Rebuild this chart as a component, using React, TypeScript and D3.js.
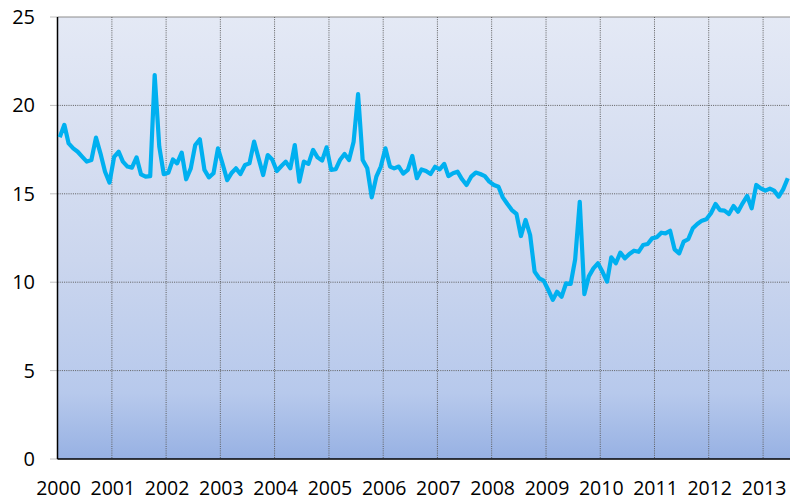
import React, { useEffect, useRef } from 'react';
import * as d3 from 'd3';

// monthly values, Jan..Dec
const y2000 = [18.2, 18.9, 17.85, 17.57, 17.38, 17.09, 16.82, 16.91, 18.18, 17.29, 16.25, 15.63];
const y2001 = [17.09, 17.38, 16.82, 16.54, 16.48, 17.06, 16.1, 15.97, 16.0, 21.72, 17.67, 16.11];
const y2002 = [16.19, 16.94, 16.72, 17.33, 15.82, 16.44, 17.76, 18.08, 16.35, 15.93, 16.16, 17.57];
const y2003 = [16.7, 15.77, 16.16, 16.44, 16.12, 16.63, 16.72, 17.95, 16.99, 16.06, 17.19, 16.94];
const y2004 = [16.29, 16.57, 16.82, 16.44, 17.76, 15.69, 16.82, 16.69, 17.48, 17.06, 16.88, 17.63];
const y2005 = [16.35, 16.39, 16.91, 17.25, 16.91, 17.95, 20.64, 16.91, 16.44, 14.8, 15.97, 16.54];
const y2006 = [17.57, 16.54, 16.44, 16.54, 16.14, 16.35, 17.14, 15.88, 16.38, 16.29, 16.12, 16.53];
const y2007 = [16.38, 16.69, 16.0, 16.16, 16.25, 15.82, 15.5, 15.97, 16.2, 16.12, 16.0, 15.69];
const y2008 = [15.5, 15.4, 14.8, 14.42, 14.08, 13.86, 12.61, 13.52, 12.67, 10.6, 10.22, 10.09];
const y2009 = [9.56, 9.0, 9.46, 9.18, 9.94, 9.9, 11.29, 14.55, 9.33, 10.33, 10.78, 11.07];
const y2010 = [10.59, 10.03, 11.41, 11.07, 11.67, 11.35, 11.6, 11.78, 11.72, 12.1, 12.16, 12.48];
const y2011 = [12.54, 12.8, 12.76, 12.91, 11.86, 11.63, 12.29, 12.43, 13.05, 13.29, 13.48, 13.56];
const y2012 = [13.9, 14.42, 14.08, 14.05, 13.86, 14.31, 13.99, 14.46, 14.88, 14.18, 15.5, 15.31];
const y2013 = [15.18, 15.29, 15.18, 14.84, 15.25, 15.88];

const years = [2000, 2001, 2002, 2003, 2004, 2005, 2006, 2007, 2008, 2009, 2010, 2011, 2012, 2013];
const yTicks = [0, 5, 10, 15, 20, 25];

const values = [
  ...y2000, ...y2001, ...y2002, ...y2003, ...y2004, ...y2005, ...y2006,
  ...y2007, ...y2008, ...y2009, ...y2010, ...y2011, ...y2012, ...y2013,
];

export default function App() {
  const ref = useRef<SVGSVGElement | null>(null);

  useEffect(() => {
    const width = 794;
    const height = 500;
    const left = 57.5;
    const right = 790;
    const top = 17;
    const bottom = 459;
    const font = "'Open Sans', sans-serif";

    const svg = d3.select(ref.current);
    svg.selectAll('*').remove();
    svg.attr('width', width).attr('height', height);

    const x = d3
      .scaleTime()
      .domain([new Date(2000, 0, 1), new Date(2013, 6, 1)])
      .range([left, right]);
    const y = d3.scaleLinear().domain([0, 25]).range([bottom, top]);

    // background gradient of the plot area
    const grad = svg
      .append('defs')
      .append('linearGradient')
      .attr('id', 'plotBg')
      .attr('x1', 0)
      .attr('y1', 0)
      .attr('x2', 0)
      .attr('y2', 1);
    [
      ['0%', '#e4e9f5'],
      ['55%', '#cbd6ee'],
      ['85%', '#b7c9ec'],
      ['100%', '#97b1e3'],
    ].forEach(([o, c]) => grad.append('stop').attr('offset', o).attr('stop-color', c));

    svg
      .append('rect')
      .attr('x', left)
      .attr('y', top)
      .attr('width', right - left)
      .attr('height', bottom - top)
      .attr('fill', 'url(#plotBg)');

    // tick stubs on the left
    svg
      .selectAll('tickStub')
      .data(yTicks)
      .enter()
      .append('line')
      .attr('x1', 50)
      .attr('x2', left)
      .attr('y1', d => y(d))
      .attr('y2', d => y(d))
      .attr('stroke', '#c0c0c0')
      .attr('stroke-width', 1);

    // horizontal gridlines
    svg
      .selectAll('hGrid')
      .data(yTicks.filter(d => d > 0 && d < 25))
      .enter()
      .append('line')
      .attr('x1', left)
      .attr('x2', right)
      .attr('y1', d => y(d))
      .attr('y2', d => y(d))
      .attr('stroke', '#5e5e5e')
      .attr('stroke-width', 1)
      .attr('stroke-dasharray', '1,1.2');

    // top line
    svg
      .append('line')
      .attr('x1', left)
      .attr('x2', right)
      .attr('y1', y(25))
      .attr('y2', y(25))
      .attr('stroke', '#8c8c8c')
      .attr('stroke-width', 1);

    // vertical gridlines
    svg
      .selectAll('vGrid')
      .data(years.slice(1))
      .enter()
      .append('line')
      .attr('x1', d => x(new Date(d, 0, 1)))
      .attr('x2', d => x(new Date(d, 0, 1)))
      .attr('y1', top)
      .attr('y2', bottom)
      .attr('stroke', '#5e5e5e')
      .attr('stroke-width', 1)
      .attr('stroke-dasharray', '1,1.2');

    // axes lines
    svg
      .append('line')
      .attr('x1', left)
      .attr('x2', left)
      .attr('y1', top)
      .attr('y2', bottom)
      .attr('stroke', '#000')
      .attr('stroke-width', 1.5);
    svg
      .append('line')
      .attr('x1', left)
      .attr('x2', right)
      .attr('y1', bottom)
      .attr('y2', bottom)
      .attr('stroke', '#000')
      .attr('stroke-width', 1.5);

    // series
    const points = values.map((v, i) => ({ date: new Date(2000, i, 16), value: v }));
    const line = d3
      .line<{ date: Date; value: number }>()
      .x(d => x(d.date))
      .y(d => y(d.value));
    svg
      .append('path')
      .datum(points)
      .attr('d', line)
      .attr('fill', 'none')
      .attr('stroke', '#00b0f0')
      .attr('stroke-width', 4.2)
      .attr('stroke-linejoin', 'round');

    // y labels
    svg
      .selectAll('yLabel')
      .data(yTicks)
      .enter()
      .append('text')
      .attr('x', 35)
      .attr('y', d => y(d) + 7)
      .attr('text-anchor', 'end')
      .style('font-family', font)
      .style('font-size', '20px')
      .attr('fill', '#000')
      .text(d => String(d));

    // x labels
    svg
      .selectAll('xLabel')
      .data(years)
      .enter()
      .append('text')
      .attr('x', d => x(new Date(d, 0, 1)) + 1)
      .attr('y', 494.5)
      .attr('text-anchor', 'middle')
      .style('font-family', font)
      .style('font-size', '19.5px')
      .attr('fill', '#000')
      .text(d => String(d));
  }, []);

  return (
    <svg
      ref={ref}
      style={{ position: 'absolute', left: 0, top: 0, display: 'block' }}
    />
  );
}
